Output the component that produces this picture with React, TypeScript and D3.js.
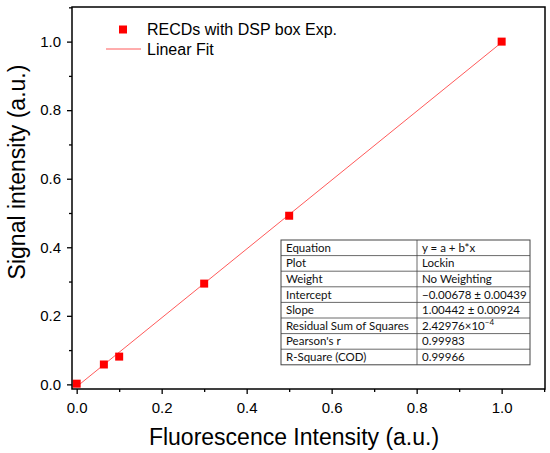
import React, { useEffect, useRef } from "react";
import { select, scaleLinear, axisBottom, axisLeft, range } from "d3";

const xData = [0.0, 0.064, 0.1, 0.3, 0.5, 1.0];
const yData = [0.002, 0.058, 0.081, 0.294, 0.492, 1.0];
const fitIntercept = -0.00678;
const fitSlope = 1.00442;
const majorTicks = [0, 0.2, 0.4, 0.6, 0.8, 1.0];
const minorTicks = [0.1, 0.3, 0.5, 0.7, 0.9, 1.1];
const legendLabels = ["RECDs with DSP box Exp.", "Linear Fit"];
const tableKeys = [
  "Equation",
  "Plot",
  "Weight",
  "Intercept",
  "Slope",
  "Residual Sum of Squares",
  "Pearson's r",
  "R-Square (COD)",
];
const tableValues = [
  "y = a + b*x",
  "Lockin",
  "No Weighting",
  "\u22120.00678 \u00b1 0.00439",
  "1.00442 \u00b1 0.00924",
  "2.42976\u00d710|\u22124",
  "0.99983",
  "0.99966",
];

const W = 550;
const H = 453;
const margin = { left: 72, top: 7, right: 5, bottom: 64 };

export default function App() {
  const svgRef = useRef<SVGSVGElement | null>(null);

  useEffect(() => {
    const svg = select(svgRef.current);
    svg.selectAll("*").remove();

    const x = scaleLinear()
      .domain([-0.011, 1.102])
      .range([margin.left, W - margin.right]);
    const y = scaleLinear()
      .domain([-0.0135, 1.101])
      .range([H - margin.bottom, margin.top]);

    const font = "Arial, 'Liberation Sans', sans-serif";

    // fit line
    svg
      .append("line")
      .attr("x1", x(0))
      .attr("y1", y(fitIntercept))
      .attr("x2", x(1))
      .attr("y2", y(fitIntercept + fitSlope))
      .attr("stroke", "#ff5a5a")
      .attr("stroke-width", 1);

    // points
    svg
      .append("g")
      .selectAll("rect")
      .data(xData.map((d, i) => [d, yData[i]]))
      .join("rect")
      .attr("x", (d) => x(d[0]) - 4)
      .attr("y", (d) => y(d[1]) - 4)
      .attr("width", 8)
      .attr("height", 8)
      .attr("fill", "#ff0000");

    // axes
    const bottom = H - margin.bottom;
    const gx = svg.append("g").attr("transform", `translate(0,${bottom})`);
    gx.call(
      axisBottom(x)
        .tickValues(majorTicks)
        .tickSize(5)
        .tickPadding(8)
        .tickFormat((d: any) => d.toFixed(1))
    );
    gx.append("g").call(axisBottom(x).tickValues(minorTicks).tickSize(3).tickFormat(() => ""));

    const gy = svg.append("g").attr("transform", `translate(${margin.left},0)`);
    gy.call(
      axisLeft(y)
        .tickValues(majorTicks)
        .tickSize(5)
        .tickPadding(6)
        .tickFormat((d: any) => d.toFixed(1))
    );
    gy.append("g").call(axisLeft(y).tickValues(minorTicks).tickSize(3).tickFormat(() => ""));

    svg.selectAll(".domain").remove();
    svg.selectAll(".tick line").attr("stroke", "#000").attr("stroke-width", 1.3);
    svg
      .selectAll(".tick text")
      .attr("font-family", font)
      .attr("font-size", 15)
      .attr("fill", "#000");

    // frame
    svg
      .append("rect")
      .attr("x", margin.left)
      .attr("y", margin.top)
      .attr("width", W - margin.right - margin.left)
      .attr("height", H - margin.bottom - margin.top)
      .attr("fill", "none")
      .attr("stroke", "#000")
      .attr("stroke-width", 1.5);

    // axis titles
    svg
      .append("text")
      .attr("x", 294)
      .attr("y", 445)
      .attr("text-anchor", "middle")
      .attr("font-family", font)
      .attr("font-size", 23)
      .text("Fluorescence Intensity (a.u.)");
    svg
      .append("text")
      .attr("transform", `translate(25,172) rotate(-90)`)
      .attr("text-anchor", "middle")
      .attr("font-family", font)
      .attr("font-size", 23)
      .text("Signal intensity (a.u.)");

    // legend
    const lg = svg.append("g").attr("font-family", font).attr("font-size", 16);
    lg.append("rect").attr("x", 119).attr("y", 25.5).attr("width", 8).attr("height", 8).attr("fill", "#ff0000");
    lg.append("text").attr("x", 147).attr("y", 35).text(legendLabels[0]);
    lg.append("line")
      .attr("x1", 106)
      .attr("x2", 141)
      .attr("y1", 49)
      .attr("y2", 49)
      .attr("stroke", "#ff5a5a")
      .attr("stroke-width", 1);
    lg.append("text").attr("x", 147).attr("y", 55).text(legendLabels[1]);

    // stats table
    const tx0 = 281;
    const tx1 = 417;
    const tx2 = 530;
    const ty0 = 240;
    const rowH = 15.6;
    const tg = svg.append("g").attr("font-family", "Lato, 'Open Sans', sans-serif").attr("font-size", 11.5);
    tg.append("rect")
      .attr("x", tx0)
      .attr("y", ty0)
      .attr("width", tx2 - tx0)
      .attr("height", rowH * tableKeys.length)
      .attr("fill", "#fff")
      .attr("stroke", "#444")
      .attr("stroke-width", 1);
    tg.selectAll("line.row")
      .data(range(1, tableKeys.length))
      .join("line")
      .attr("x1", tx0)
      .attr("x2", tx2)
      .attr("y1", (i) => ty0 + i * rowH)
      .attr("y2", (i) => ty0 + i * rowH)
      .attr("stroke", "#444")
      .attr("stroke-width", 0.8);
    tg.append("line")
      .attr("x1", tx1)
      .attr("x2", tx1)
      .attr("y1", ty0)
      .attr("y2", ty0 + rowH * tableKeys.length)
      .attr("stroke", "#444")
      .attr("stroke-width", 0.8);
    tableKeys.forEach((k, i) => {
      tg.append("text")
        .attr("x", tx0 + 5)
        .attr("y", ty0 + i * rowH + 11.8)
        .attr("fill", "#111")
        .text(k);
      const v = tableValues[i];
      const t = tg
        .append("text")
        .attr("x", tx1 + 5)
        .attr("y", ty0 + i * rowH + 11.8)
        .attr("fill", "#111");
      if (v.includes("|")) {
        const [base, sup] = v.split("|");
        t.append("tspan").text(base);
        t.append("tspan").attr("font-size", 8).attr("dy", -5).text(sup);
      } else {
        t.text(v);
      }
    });
  }, []);

  return (
    <div>
      <svg
        ref={svgRef}
        width={W}
        height={H}
        style={{ position: "absolute", left: 0, top: 0, background: "#fff" }}
      ></svg>
    </div>
  );
}
